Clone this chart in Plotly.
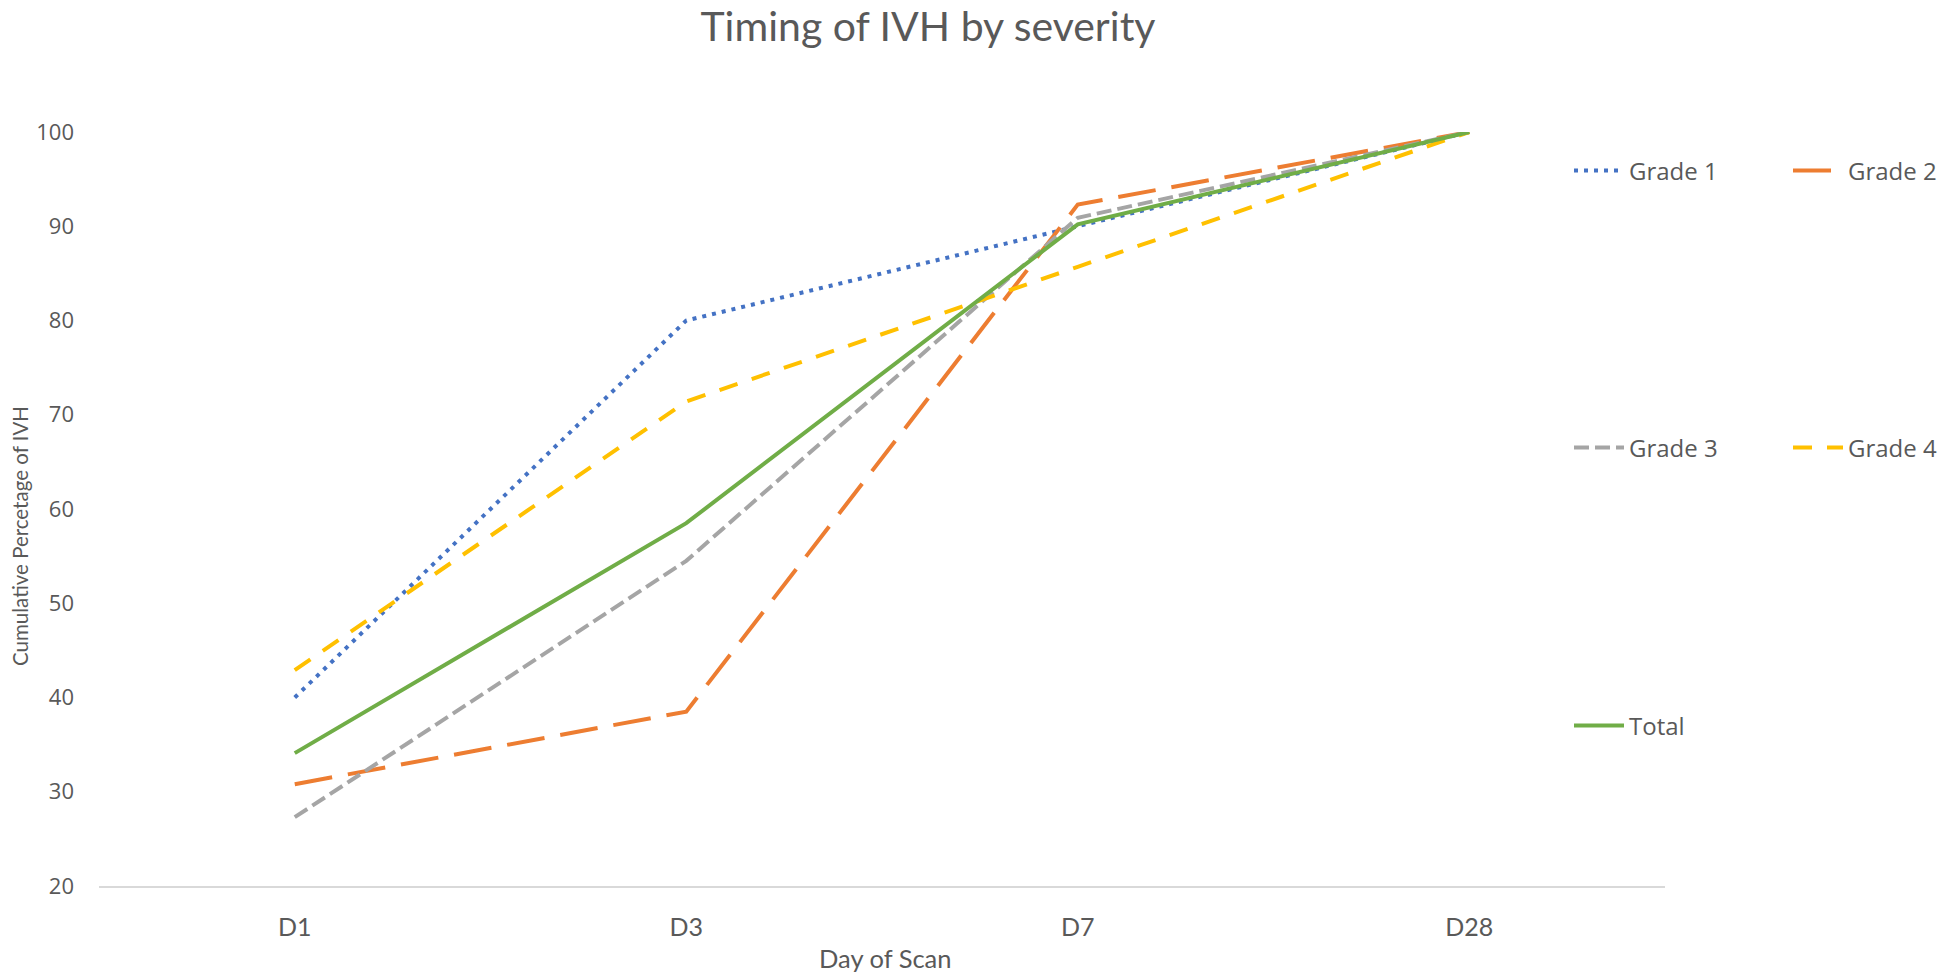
import plotly.graph_objects as go

days = ["D1", "D3", "D7", "D28"]
grade1 = [40.0, 80.0, 90.0, 100.0]
grade2 = [30.8, 38.5, 92.3, 100.0]
grade3 = [27.3, 54.5, 90.9, 100.0]
grade4 = [42.9, 71.4, 85.7, 100.0]
total = [34.1, 58.5, 90.2, 100.0]
y_ticks = [20, 30, 40, 50, 60, 70, 80, 90, 100]

series = [
    ("Grade 1", grade1, "#4472C4", "4px,6px", "legend"),
    ("Grade 2", grade2, "#ED7D31", "38px,16px", "legend2"),
    ("Grade 3", grade3, "#A5A5A5", "15px,6px", "legend3"),
    ("Grade 4", grade4, "#FFC000", "19px,15px", "legend4"),
    ("Total", total, "#70AD47", "solid", "legend5"),
]

fig = go.Figure()
for name, vals, color, dash, lg in series:
    fig.add_trace(go.Scatter(
        x=days, y=vals, name=name, mode="lines",
        line=dict(color=color, width=4, dash=dash),
        legend=lg,
    ))

# page body margin (8px) offsets the figure; work in figure pixels
OFF = 8
W, H = 1946 - OFF, 976 - OFF
L, T = 99 - OFF, 132 - OFF
R = W - (1665 - OFF)
B = H - (886 - OFF)
pw = W - L - R
ph = H - T - B

def px_x(x):
    return (x - OFF - L) / pw

def px_y(y):
    return (H - B - (y - OFF)) / ph

leg_font = dict(family="Open Sans", size=24, color="#595959")
def leg(x, y):
    return dict(x=px_x(x), y=px_y(y), xanchor="left", yanchor="middle",
                font=leg_font, bgcolor="rgba(0,0,0,0)", borderwidth=0,
                itemwidth=50, tracegroupgap=0)

txt = "#595959"
fig.update_layout(
    width=W, height=H,
    margin=dict(l=L, r=R, t=T, b=B, autoexpand=False),
    paper_bgcolor="white", plot_bgcolor="white",
    title=dict(text="Timing of IVH by severity", x=(928 - OFF) / W, xanchor="center",
               y=1 - (27 - OFF) / H, yanchor="middle", yref="container",
               font=dict(family="Lato", size=41, color=txt)),
    legend=leg(1569, 171),
    legend2=leg(1788, 171),
    legend3=leg(1569, 448),
    legend4=leg(1788, 448),
    legend5=leg(1569, 726),
    showlegend=True,
    xaxis=dict(
        type="category", range=[-0.5, 3.5],
        showgrid=False, showline=True, linecolor="#D9D9D9", linewidth=1.5,
        ticks="", tickfont=dict(family="Lato", size=25, color=txt),
        ticklabelstandoff=18, zeroline=False,
    ),
    yaxis=dict(
        range=[20, 100], tickvals=y_ticks, showgrid=False, zeroline=False,
        showline=False, ticks="",
        tickfont=dict(family="Open Sans", size=22, color=txt),
        ticklabelstandoff=24,
    ),
    annotations=[
        dict(text="Day of Scan", xref="paper", yref="paper",
             x=px_x(885), y=px_y(958), xanchor="center", yanchor="middle",
             showarrow=False, font=dict(family="Lato", size=25.5, color=txt)),
        dict(text="Cumulative Percetage of IVH", xref="paper", yref="paper",
             x=px_x(20), y=px_y(536), xanchor="center", yanchor="middle",
             textangle=-90, showarrow=False,
             font=dict(family="Lato", size=20.5, color=txt)),
    ],
)

fig.write_html("out.html")
